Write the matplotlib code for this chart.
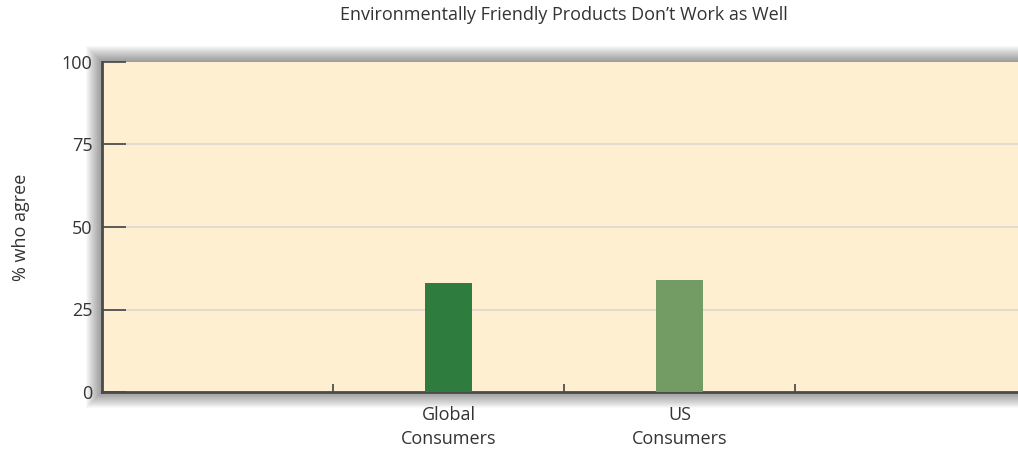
import matplotlib
matplotlib.use('Agg')

import numpy as np
from matplotlib import pyplot as plt
from matplotlib.patches import Rectangle

plt.rcParams['font.family'] = ['Open Sans', 'DejaVu Sans']

categories = ['', 'Global\nConsumers', 'US\nConsumers', '']
values = [0, 33, 34, 0]
bar_colors = ['#2e7d3e', '#2e7d3e', '#739c65', '#739c65']
yticks = [0, 25, 50, 75, 100]
title = 'Environmentally Friendly Products Don\u2019t Work as Well'
ylabel = '% who agree'

W, H = 1018, 450
fig = plt.figure(figsize=(W / 100, H / 100), dpi=100)

# axes box in pixels: left 102, right 1026 (runs off the figure), top 62, bottom 392
left, right, top, bottom = 102, 1026, 62, 392
ax = fig.add_axes([left / W, 1 - bottom / H, (right - left) / W, (bottom - top) / H])

# soft drop shadow behind the plot area
for i in range(16):
	pad = 16 - i
	fig.patches.append(Rectangle(((left - pad) / W, 1 - (bottom + pad) / H),
			(right - left + 2 * pad) / W, (bottom - top + 2 * pad) / H,
			transform=fig.transFigure, facecolor='#000000', alpha=0.028,
			edgecolor='none', zorder=-5))

ax.set_facecolor('#fdefd0')
x = np.arange(len(categories))
ax.bar(x[1:3], values[1:3], width=0.2, color=bar_colors[1:3], zorder=3)

ax.set_xlim(-0.5, len(categories) - 0.5)
ax.set_ylim(0, 100)
ax.set_yticks(yticks)
ax.set_yticklabels([str(t) for t in yticks], fontsize=13, color='#333333')
ax.set_xticks(x[1:3])
ax.set_xticklabels(categories[1:3], fontsize=13, color='#333333', linespacing=1.45)
ax.tick_params(axis='x', length=0, pad=10)
ax.tick_params(axis='y', direction='in', length=17, width=1.2, color='#444444', pad=7)

# minor ticks between category slots
ax.set_xticks([0.5, 1.5, 2.5], minor=True)
ax.tick_params(axis='x', which='minor', direction='in', length=6, width=1.2, color='#444444')

for t in yticks[1:-1]:
	ax.axhline(t, color='#dcd9cf', linewidth=1.2, zorder=1)

for s in ['top', 'right']:
	ax.spines[s].set_visible(False)
for s in ['left', 'bottom']:
	ax.spines[s].set_color('#4a4a4a')
	ax.spines[s].set_linewidth(2)

ax.set_title(title, fontsize=13, color='#333333', pad=30)
ax.set_ylabel(ylabel, fontsize=13, color='#333333', labelpad=23)

fig.savefig('out.png', dpi=100, facecolor='white')
